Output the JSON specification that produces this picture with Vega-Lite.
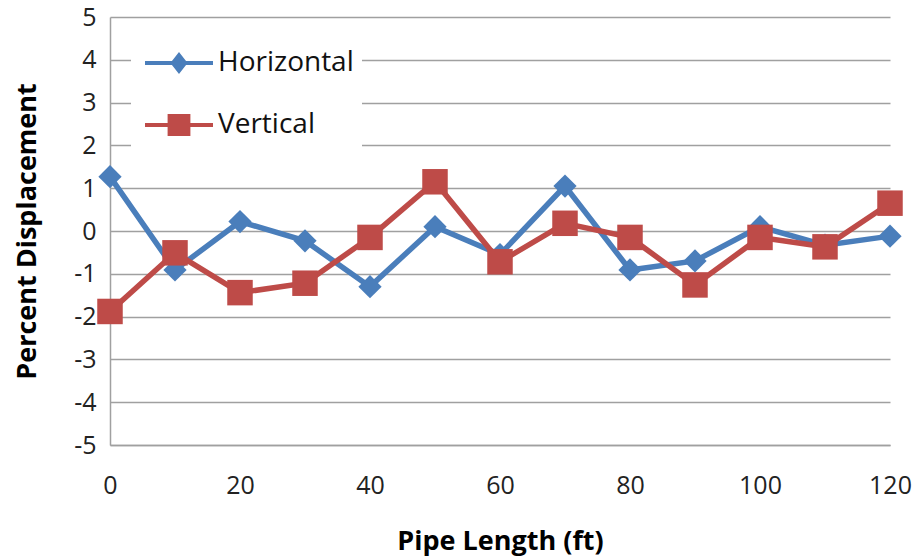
{
  "$schema": "https://vega.github.io/schema/vega-lite/v6.json",
  "autosize": {"type": "none"},
  "padding": {"left": 110, "top": 17, "right": 27, "bottom": 111},
  "width": 780,
  "height": 428,
  "background": "white",
  "data": {"values": [
    {"x": 0, "series": "Horizontal", "v": 1.27},
    {"x": 10, "series": "Horizontal", "v": -0.91},
    {"x": 20, "series": "Horizontal", "v": 0.22},
    {"x": 30, "series": "Horizontal", "v": -0.23},
    {"x": 40, "series": "Horizontal", "v": -1.3},
    {"x": 50, "series": "Horizontal", "v": 0.1},
    {"x": 60, "series": "Horizontal", "v": -0.55},
    {"x": 70, "series": "Horizontal", "v": 1.05},
    {"x": 80, "series": "Horizontal", "v": -0.91},
    {"x": 90, "series": "Horizontal", "v": -0.7},
    {"x": 100, "series": "Horizontal", "v": 0.1},
    {"x": 110, "series": "Horizontal", "v": -0.33},
    {"x": 120, "series": "Horizontal", "v": -0.12},
    {"x": 0, "series": "Vertical", "v": -1.88},
    {"x": 10, "series": "Vertical", "v": -0.51},
    {"x": 20, "series": "Vertical", "v": -1.44},
    {"x": 30, "series": "Vertical", "v": -1.22},
    {"x": 40, "series": "Vertical", "v": -0.15},
    {"x": 50, "series": "Vertical", "v": 1.15},
    {"x": 60, "series": "Vertical", "v": -0.72},
    {"x": 70, "series": "Vertical", "v": 0.18},
    {"x": 80, "series": "Vertical", "v": -0.15},
    {"x": 90, "series": "Vertical", "v": -1.26},
    {"x": 100, "series": "Vertical", "v": -0.15},
    {"x": 110, "series": "Vertical", "v": -0.37},
    {"x": 120, "series": "Vertical", "v": 0.65}
  ]},
  "config": {
    "view": {"stroke": null},
    "font": "Open Sans"
  },
  "encoding": {
    "x": {
      "field": "x", "type": "quantitative",
      "scale": {"domain": [0, 120], "nice": false},
      "axis": {
        "values": [0, 20, 40, 60, 80, 100, 120],
        "title": "Pipe Length (ft)",
        "titleFont": "Open Sans", "titleFontSize": 27, "titleFontWeight": "bold", "titleColor": "black",
        "titlePadding": 30,
        "labelFont": "Open Sans", "labelFontSize": 25, "labelColor": "#222",
        "labelPadding": 28, "ticks": false, "grid": false,
        "domainColor": "#a0a0a0", "domainWidth": 1.5,
        "labelFlush": false
      }
    },
    "y": {
      "field": "v", "type": "quantitative",
      "scale": {"domain": [-5, 5], "nice": false},
      "axis": {
        "values": [-5, -4, -3, -2, -1, 0, 1, 2, 3, 4, 5],
        "labelExpr": "toString(datum.value)",
        "title": "Percent Displacement",
        "titleFont": "Open Sans", "titleFontSize": 27, "titleFontWeight": "bold", "titleColor": "black",
        "titlePadding": 32,
        "labelFont": "Open Sans", "labelFontSize": 25, "labelColor": "#222",
        "labelPadding": 14, "ticks": false,
        "grid": true, "gridColor": "#a0a0a0", "gridWidth": 1.5,
        "domainColor": "#a0a0a0", "domainWidth": 1.5,
        "labelFlush": false
      }
    },
    "color": {
      "field": "series", "type": "nominal",
      "scale": {"domain": ["Horizontal", "Vertical"], "range": ["#4a7ebb", "#be4b48"]},
      "legend": {
        "title": null,
        "orient": "none",
        "legendX": 21,
        "legendY": 18,
        "padding": 8,
        "fillColor": "white",
        "strokeColor": null,
        "symbolType": "circle",
        "symbolSize": 1600,
        "symbolOpacity": 1,
        "symbolStrokeWidth": 0,
        "symbolOffset": 20,
        "labelFont": "Open Sans",
        "labelFontSize": 28,
        "labelColor": "#111",
        "labelOffset": 19,
        "rowPadding": 28,
        "encode": {
          "symbols": {
            "update": {
              "shape": {"signal": "datum.value == 'Horizontal' ? 'M-1.7,-0.1H1.7V0.1H-1.7Z M0,-0.55L0.43,0L0,0.55L-0.43,0Z' : 'M-1.7,-0.1H1.7V0.1H-1.7Z M-0.57,-0.55H0.57V0.55H-0.57Z'"},
              "fill": {"signal": "datum.value == 'Horizontal' ? '#4a7ebb' : '#be4b48'"}
            }
          }
        }
      }
    }
  },
  "layer": [
    {
      "transform": [{"filter": "datum.series == 'Horizontal'"}],
      "mark": {"type": "line", "strokeWidth": 5.5}
    },
    {
      "transform": [{"filter": "datum.series == 'Horizontal'"}],
      "mark": {"type": "point", "filled": true, "opacity": 1, "shape": "diamond", "size": 540}
    },
    {
      "transform": [{"filter": "datum.series == 'Vertical'"}],
      "mark": {"type": "line", "strokeWidth": 5.5}
    },
    {
      "transform": [{"filter": "datum.series == 'Vertical'"}],
      "mark": {"type": "point", "filled": true, "opacity": 1, "shape": "square", "size": 650}
    }
  ]
}
